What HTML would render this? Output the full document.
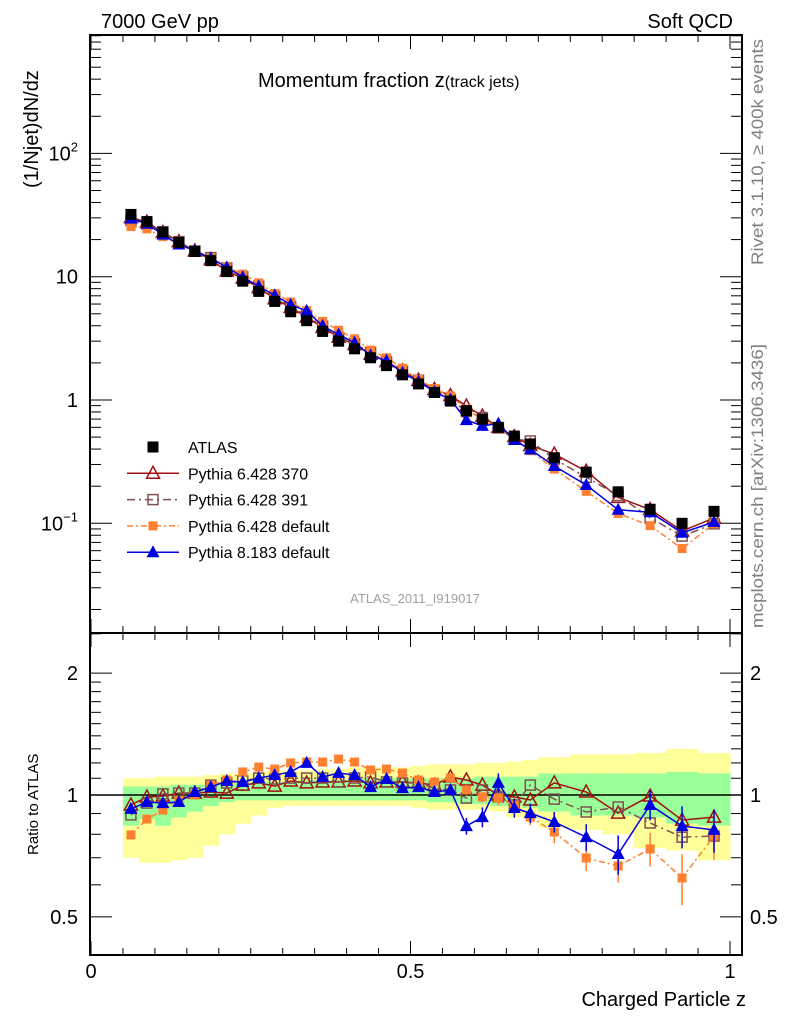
<!DOCTYPE html>
<html><head><meta charset="utf-8"><style>
body{margin:0;background:#fff}
svg text{font-family:"Liberation Sans",sans-serif}
</style></head><body>
<svg id="c" width="786" height="1024" xmlns="http://www.w3.org/2000/svg">
<text x="101" y="28" font-size="20">7000 GeV pp</text>
<text x="733" y="28" font-size="20" text-anchor="end">Soft QCD</text>
<text x="258" y="87" font-size="20">Momentum fraction z<tspan font-size="16">(track jets)</tspan></text>
<text transform="translate(38,188) rotate(-90)" font-size="20">(1/Njet)dN/dz</text>
<text transform="translate(38,855) rotate(-90)" font-size="15">Ratio to ATLAS</text>
<text x="746" y="1006" font-size="20" text-anchor="end">Charged Particle z</text>
<text transform="translate(763,265) rotate(-90)" font-size="16.5" fill="#808080" textLength="226" lengthAdjust="spacingAndGlyphs">Rivet 3.1.10, ≥ 400k events</text>
<text transform="translate(763,628) rotate(-90)" font-size="16.5" fill="#808080" textLength="284" lengthAdjust="spacingAndGlyphs">mcplots.cern.ch [arXiv:1306.3436]</text>
<text x="415" y="603" font-size="13" fill="#a0a0a0" text-anchor="middle">ATLAS_2011_I919017</text>
<g id="bands"></g><g id="axes"></g><g id="series"></g><g id="legend"></g>
</svg>
<script>
const zVals=[0.0625,0.0875,0.1125,0.1375,0.1625,0.1875,0.2125,0.2375,0.2625,0.2875,0.3125,0.3375,0.3625,0.3875,0.4125,0.4375,0.4625,0.4875,0.5125,0.5375,0.5625,0.5875,0.6125,0.6375,0.6625,0.6875,0.725,0.775,0.825,0.875,0.925,0.975];
const binEdges=[0.05,0.075,0.1,0.125,0.15,0.175,0.2,0.225,0.25,0.275,0.3,0.325,0.35,0.375,0.4,0.425,0.45,0.475,0.5,0.525,0.55,0.575,0.6,0.625,0.65,0.675,0.7,0.75,0.8,0.85,0.9,0.95,1.0];
const atlas=[32,28,23,19,16,13.5,11,9.2,7.6,6.3,5.2,4.4,3.6,3.0,2.6,2.2,1.9,1.6,1.35,1.15,0.98,0.82,0.7,0.6,0.51,0.44,0.34,0.26,0.18,0.13,0.1,0.125];
const ratioP370=[0.945,0.989,0.994,1.011,1.011,1.017,1.011,1.058,1.071,1.052,1.083,1.071,1.077,1.077,1.083,1.071,1.077,1.077,1.071,1.058,1.108,1.089,1.058,1.0,0.989,0.972,1.071,1.017,0.902,0.994,0.867,0.882];
const ratioP391=[0.893,0.955,1.006,1.011,1.011,1.058,1.071,1.083,1.101,1.095,1.101,1.101,1.101,1.077,1.101,1.108,1.077,1.071,1.071,1.04,1.029,0.983,1.029,0.989,0.945,1.058,0.977,0.908,0.934,0.853,0.787,0.792];
const ratioP6def=[0.797,0.872,0.918,0.972,1.0,1.058,1.089,1.14,1.172,1.159,1.2,1.206,1.206,1.227,1.206,1.153,1.159,1.133,1.089,1.077,1.101,1.029,0.989,0.983,0.945,0.882,0.81,0.699,0.668,0.736,0.624,0.792];
const ratioP8=[0.924,0.961,0.955,0.961,1.017,1.046,1.083,1.077,1.101,1.12,1.14,1.2,1.108,1.133,1.12,1.046,1.095,1.04,1.046,1.017,1.029,0.838,0.882,1.071,0.929,0.902,0.858,0.787,0.715,0.945,0.838,0.82];
const errP8=[0.01,0.01,0.01,0.01,0.01,0.01,0.01,0.01,0.01,0.015,0.015,0.02,0.02,0.02,0.02,0.02,0.02,0.02,0.02,0.025,0.03,0.04,0.05,0.06,0.05,0.05,0.05,0.06,0.08,0.08,0.1,0.1];
const errP6def=[0.005,0.005,0.005,0.005,0.005,0.005,0.005,0.005,0.005,0.005,0.01,0.01,0.01,0.01,0.01,0.01,0.015,0.015,0.015,0.02,0.02,0.03,0.03,0.04,0.04,0.04,0.05,0.05,0.06,0.07,0.09,0.1];
const yelHi=[1.10,1.10,1.11,1.11,1.11,1.12,1.13,1.13,1.14,1.15,1.15,1.15,1.16,1.16,1.17,1.17,1.17,1.17,1.18,1.19,1.19,1.19,1.20,1.20,1.21,1.22,1.24,1.26,1.26,1.27,1.30,1.27];
const yelLo=[0.70,0.68,0.68,0.69,0.70,0.75,0.80,0.85,0.89,0.93,0.94,0.94,0.94,0.94,0.94,0.94,0.94,0.94,0.93,0.92,0.92,0.92,0.92,0.91,0.88,0.88,0.83,0.82,0.80,0.74,0.73,0.69];
const grnHi=[1.05,1.05,1.05,1.06,1.06,1.06,1.07,1.07,1.08,1.08,1.08,1.09,1.09,1.09,1.09,1.10,1.10,1.10,1.10,1.10,1.10,1.10,1.11,1.11,1.11,1.11,1.13,1.13,1.13,1.13,1.14,1.13];
const grnLo=[0.84,0.87,0.84,0.88,0.91,0.94,0.96,0.97,0.97,0.97,0.97,0.97,0.97,0.97,0.97,0.97,0.97,0.97,0.97,0.96,0.96,0.95,0.95,0.94,0.94,0.93,0.91,0.89,0.89,0.88,0.85,0.84];
const xTicks=[0,0.5,1];
const xTickLabels=["0","0.5","1"];
const yDecades=[-1,0,1,2];
const yDecadeBase=["10","1","10","10"];
const yDecadeSup=["−1","","","2"];
const rTicks=[0.5,1,2];
const rTickLabels=["0.5","1","2"];

const NS="http://www.w3.org/2000/svg";
const L=90,R=742,T=35,MB=633,B=955;
const X=z=>91+z*639;
const Y=v=>400-123.3*Math.log10(v);
const RY=r=>795-405*Math.log10(r);
function mk(tag,attrs,parent){const e=document.createElementNS(NS,tag);for(const k in attrs)e.setAttribute(k,attrs[k]);(typeof parent=='string'?document.getElementById(parent):parent).appendChild(e);return e;}

for(let i=0;i<zVals.length;i++){
  const x0=X(binEdges[i]),x1=X(binEdges[i+1]);
  const y1=mk('rect',{x:x0,y:RY(yelHi[i]),width:x1-x0+0.5,height:RY(yelLo[i])-RY(yelHi[i]),fill:'#ffff99'},'bands');
  
  
  const g1=mk('rect',{x:x0,y:RY(grnHi[i]),width:x1-x0+0.5,height:RY(grnLo[i])-RY(grnHi[i]),fill:'#99ff99'},'bands');
  
  
}
const f1=mk('rect',{x:L,y:T,width:R-L,height:MB-T,fill:'none',stroke:'#000','stroke-width':2},'axes');


const f2=mk('rect',{x:L,y:MB,width:R-L,height:B-MB,fill:'none',stroke:'#000','stroke-width':2},'axes');


const ref=mk('line',{x1:L,x2:R,y1:RY(1),y2:RY(1),stroke:'#000','stroke-width':1.5},'axes');


for(let k=0;k<=20;k++){const z=k*0.05;const x=X(z);const len=(k%10==0)?14:7;
  mk('line',{x1:x,x2:x,y1:B,y2:B-len,stroke:'#000'},'axes');mk('line',{x1:x,x2:x,y1:MB,y2:MB-len,stroke:'#000'},'axes');
  mk('line',{x1:x,x2:x,y1:T,y2:T+len,stroke:'#000'},'axes');mk('line',{x1:x,x2:x,y1:MB,y2:MB+len,stroke:'#000'},'axes');}
xTicks.forEach((z,i)=>{const t=mk('text',{x:X(z),y:978,'font-size':20,'text-anchor':'middle'},'axes');t.textContent=xTickLabels[i];
  
  });
for(let d=-2;d<=2;d++){for(let m=1;m<=9;m++){const v=m*Math.pow(10,d);const y=Y(v);if(y<T||y>MB)continue;const len=m==1?22:11;
  mk('line',{x1:L,x2:L+len,y1:y,y2:y,stroke:'#000'},'axes');mk('line',{x1:R,x2:R-len,y1:y,y2:y,stroke:'#000'},'axes');}}
yDecades.forEach((d,i)=>{const t=mk('text',{x:78,y:Y(Math.pow(10,d))+7,'font-size':20,'text-anchor':'end'},'axes');
  
  
  const b=mk('tspan',{},t);b.textContent=yDecadeBase[i];
  if(yDecadeSup[i]){const s=mk('tspan',{'font-size':13,dy:-9},t);s.textContent=yDecadeSup[i];}});
for(const r of [0.5,0.6,0.7,0.8,0.9,1,1.1,1.2,1.3,1.4,1.5,1.6,1.7,1.8,1.9,2,2.5]){const y=RY(r);if(y<MB||y>B)continue;const len=(r==0.5||r==1||r==2)?22:11;
  mk('line',{x1:L,x2:L+len,y1:y,y2:y,stroke:'#000'},'axes');mk('line',{x1:R,x2:R-len,y1:y,y2:y,stroke:'#000'},'axes');}
rTicks.forEach((r,i)=>{const t=mk('text',{x:78,y:RY(r)+7,'font-size':20,'text-anchor':'end'},'axes');t.textContent=rTickLabels[i];
  
  
  const t2=mk('text',{x:750,y:RY(r)+7,'font-size':20},'axes');t2.textContent=rTickLabels[i];
  
  });

function marker(kind,x,y,color,parent){
  let e;
  if(kind=='sq') e=mk('rect',{x:x-5.5,y:y-5.5,width:11,height:11,fill:color},parent);
  else if(kind=='osq') e=mk('rect',{x:x-5,y:y-5,width:10,height:10,fill:'none',stroke:color,'stroke-width':1.5},parent);
  else if(kind=='fsq') e=mk('rect',{x:x-4.5,y:y-4.5,width:9,height:9,fill:color},parent);
  else if(kind=='otri') e=mk('polygon',{points:`${x},${y-7} ${x-6.5},${y+5} ${x+6.5},${y+5}`,fill:'none',stroke:color,'stroke-width':1.5},parent);
  else e=mk('polygon',{points:`${x},${y-7} ${x-6.5},${y+5} ${x+6.5},${y+5}`,fill:color},parent);
  return e;
}
const series=[
 {name:'pythia-6428-370',ratio:ratioP370,color:'#a01010',kind:'otri',dash:'',err:null},
 {name:'pythia-6428-391',ratio:ratioP391,color:'#805050',kind:'osq',dash:'8,4,2,4',err:null},
 {name:'pythia-6428-default',ratio:ratioP6def,color:'#ff8030',kind:'fsq',dash:'6,3,2,3',err:errP6def},
 {name:'pythia-8183-default',ratio:ratioP8,color:'#0000e0',kind:'ftri',dash:'',err:errP8}
];
series.forEach(s=>{
  const mainPts=zVals.map((z,i)=>[X(z),Y(atlas[i]*s.ratio[i])]);
  const rPts=zVals.map((z,i)=>[X(z),RY(s.ratio[i])]);
  [[mainPts,'main'],[rPts,'ratio']].forEach(([pts,where])=>{
    const pl=mk('polyline',{points:pts.map(p=>p.join(',')).join(' '),fill:'none',stroke:s.color,'stroke-width':1.5,'stroke-dasharray':s.dash},'series');
    
    
    if(where=='ratio'&&s.err){zVals.forEach((z,i)=>{const x=X(z);const a=RY(s.ratio[i]+s.err[i]),b=RY(s.ratio[i]-s.err[i]);
      const eb=mk('line',{x1:x,x2:x,y1:a,y2:b,stroke:s.color,'stroke-width':1.5},'series');
      
      });}
    pts.forEach(p=>{const m=marker(s.kind,p[0],p[1],s.color,'series');
      
      });
  });
});
zVals.forEach((z,i)=>{const m=marker('sq',X(z),Y(atlas[i]),'#000','series');
  
  });
const leg=[['ATLAS','sq','#000',''],['Pythia 6.428 370','otri','#a01010',''],['Pythia 6.428 391','osq','#805050','8,4,2,4'],['Pythia 6.428 default','fsq','#ff8030','6,3,2,3'],['Pythia 8.183 default','ftri','#0000e0','']];
leg.forEach((l,i)=>{const y=447+i*26.3;
  if(i>0){const ln=mk('line',{x1:127,x2:179,y1:y,y2:y,stroke:l[2],'stroke-width':1.5,'stroke-dasharray':l[3]},'legend');
    
    }
  const m=marker(l[1],153,y,l[2],'legend');
  
  
  const t=mk('text',{x:188,y:y+6,'font-size':16},'legend');t.textContent=l[0];
  
  });
</script>
</body></html>
